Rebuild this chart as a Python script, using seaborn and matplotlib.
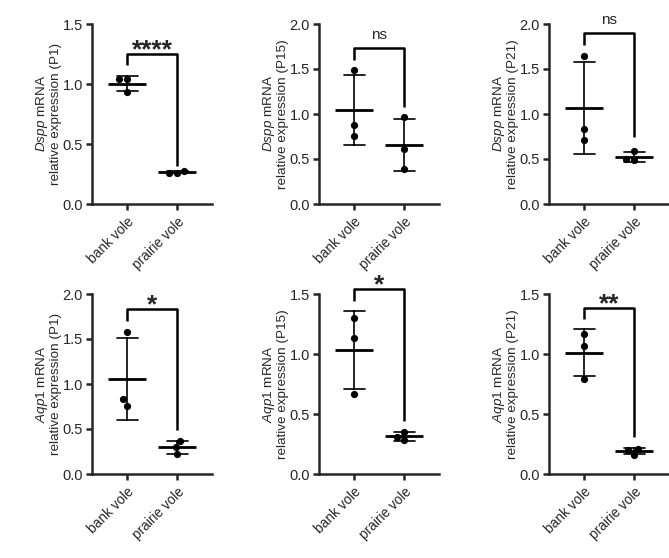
import numpy as np
import pandas as pd
import seaborn as sns
import matplotlib.pyplot as plt

groups = ["bank vole", "prairie vole"]

# values (3 animals per group)
dspp_p1_bank = [1.04, 1.04, 0.93]
dspp_p1_prairie = [0.26, 0.275, 0.26]
dspp_p15_bank = [1.49, 0.88, 0.76]
dspp_p15_prairie = [0.97, 0.61, 0.39]
dspp_p21_bank = [1.65, 0.83, 0.71]
dspp_p21_prairie = [0.59, 0.49, 0.50]
aqp1_p1_bank = [1.58, 0.83, 0.76]
aqp1_p1_prairie = [0.37, 0.30, 0.22]
aqp1_p15_bank = [1.30, 1.13, 0.67]
aqp1_p15_prairie = [0.35, 0.28, 0.31]
aqp1_p21_bank = [1.17, 1.07, 0.79]
aqp1_p21_prairie = [0.21, 0.20, 0.16]

genes = ["Dspp", "Dspp", "Dspp", "Aqp1", "Aqp1", "Aqp1"]
ages = ["P1", "P15", "P21", "P1", "P15", "P21"]
y_max = [1.5, 2.0, 2.0, 2.0, 1.5, 1.5]
sig_labels = ["****", "ns", "ns", "*", "*", "**"]
bracket_top = [1.25, 1.73, 1.90, 1.83, 1.54, 1.38]
bracket_left = [1.16, 1.60, 1.77, 1.70, 1.44, 1.29]
bracket_right = [0.32, 1.08, 0.75, 0.49, 0.44, 0.31]

panels = [
    (dspp_p1_bank, dspp_p1_prairie),
    (dspp_p15_bank, dspp_p15_prairie),
    (dspp_p21_bank, dspp_p21_prairie),
    (aqp1_p1_bank, aqp1_p1_prairie),
    (aqp1_p15_bank, aqp1_p15_prairie),
    (aqp1_p21_bank, aqp1_p21_prairie),
]

sns.set_style("ticks")
plt.rcParams["font.family"] = ["Liberation Sans", "DejaVu Sans"]
plt.rcParams["mathtext.fontset"] = "custom"
plt.rcParams["mathtext.rm"] = "Liberation Sans"
plt.rcParams["mathtext.it"] = "Liberation Sans:italic"
plt.rcParams["axes.linewidth"] = 1.8
plt.rcParams["xtick.major.width"] = 1.8
plt.rcParams["ytick.major.width"] = 1.8
plt.rcParams["xtick.major.size"] = 4.5
plt.rcParams["ytick.major.size"] = 4.5

W, H = 669, 558
fig = plt.figure(figsize=(W / 100, H / 100), dpi=100)

lefts = [92, 319, 549]
tops = [24, 294]
ax_w, ax_h = 120, 180

for i, (bank, prairie) in enumerate(panels):
    row, col = divmod(i, 3)
    ax = fig.add_axes([lefts[col] / W, 1 - (tops[row] + ax_h) / H,
                       ax_w / W, ax_h / H])
    df = pd.DataFrame({
        "group": [groups[0]] * len(bank) + [groups[1]] * len(prairie),
        "value": bank + prairie,
    })

    sns.pointplot(data=df, x="group", y="value", order=groups, errorbar="sd",
                  capsize=0.42, linestyle="none", marker="_", markersize=27,
                  markeredgewidth=2.0, color="black",
                  err_kws={"linewidth": 1.2}, ax=ax)
    sns.swarmplot(data=df, x="group", y="value", order=groups, color="black",
                  size=5.2, ax=ax)

    # significance bracket
    ax.plot([0, 0, 1, 1],
            [bracket_left[i], bracket_top[i], bracket_top[i], bracket_right[i]],
            color="black", lw=1.8, clip_on=False, solid_capstyle="butt")
    if sig_labels[i] == "ns":
        ax.annotate("ns", xy=(0.5, bracket_top[i]), xytext=(0, 6),
                    textcoords="offset pixels", ha="center", va="bottom",
                    fontsize=11, annotation_clip=False)
    else:
        ax.annotate(sig_labels[i], xy=(0.5, bracket_top[i]), xytext=(0, -3),
                    textcoords="offset pixels", ha="center", va="baseline",
                    fontsize=19, fontweight="bold", annotation_clip=False)

    ticks = np.arange(0, y_max[i] + 0.01, 0.5)
    ax.set_xlim(-0.7, 1.7)
    ax.set_ylim(0, y_max[i])
    ax.set_yticks(ticks)
    ax.set_yticklabels([f"{t:.1f}" for t in ticks])
    ax.tick_params(axis="y", labelsize=10.5, pad=2)
    ax.set_xticks([0, 1])
    ax.set_xticklabels(groups, rotation=45, ha="right",
                       rotation_mode="anchor", fontsize=9.8)
    ax.tick_params(axis="x", pad=3)
    ax.set_xlabel("")
    ax.set_ylabel(f"$\\it{{{genes[i]}}}$ mRNA\nrelative expression ({ages[i]})",
                  fontsize=9.7, labelpad=0, linespacing=1.05)
    sns.despine(ax=ax)

plt.savefig("out.png", dpi=100)
